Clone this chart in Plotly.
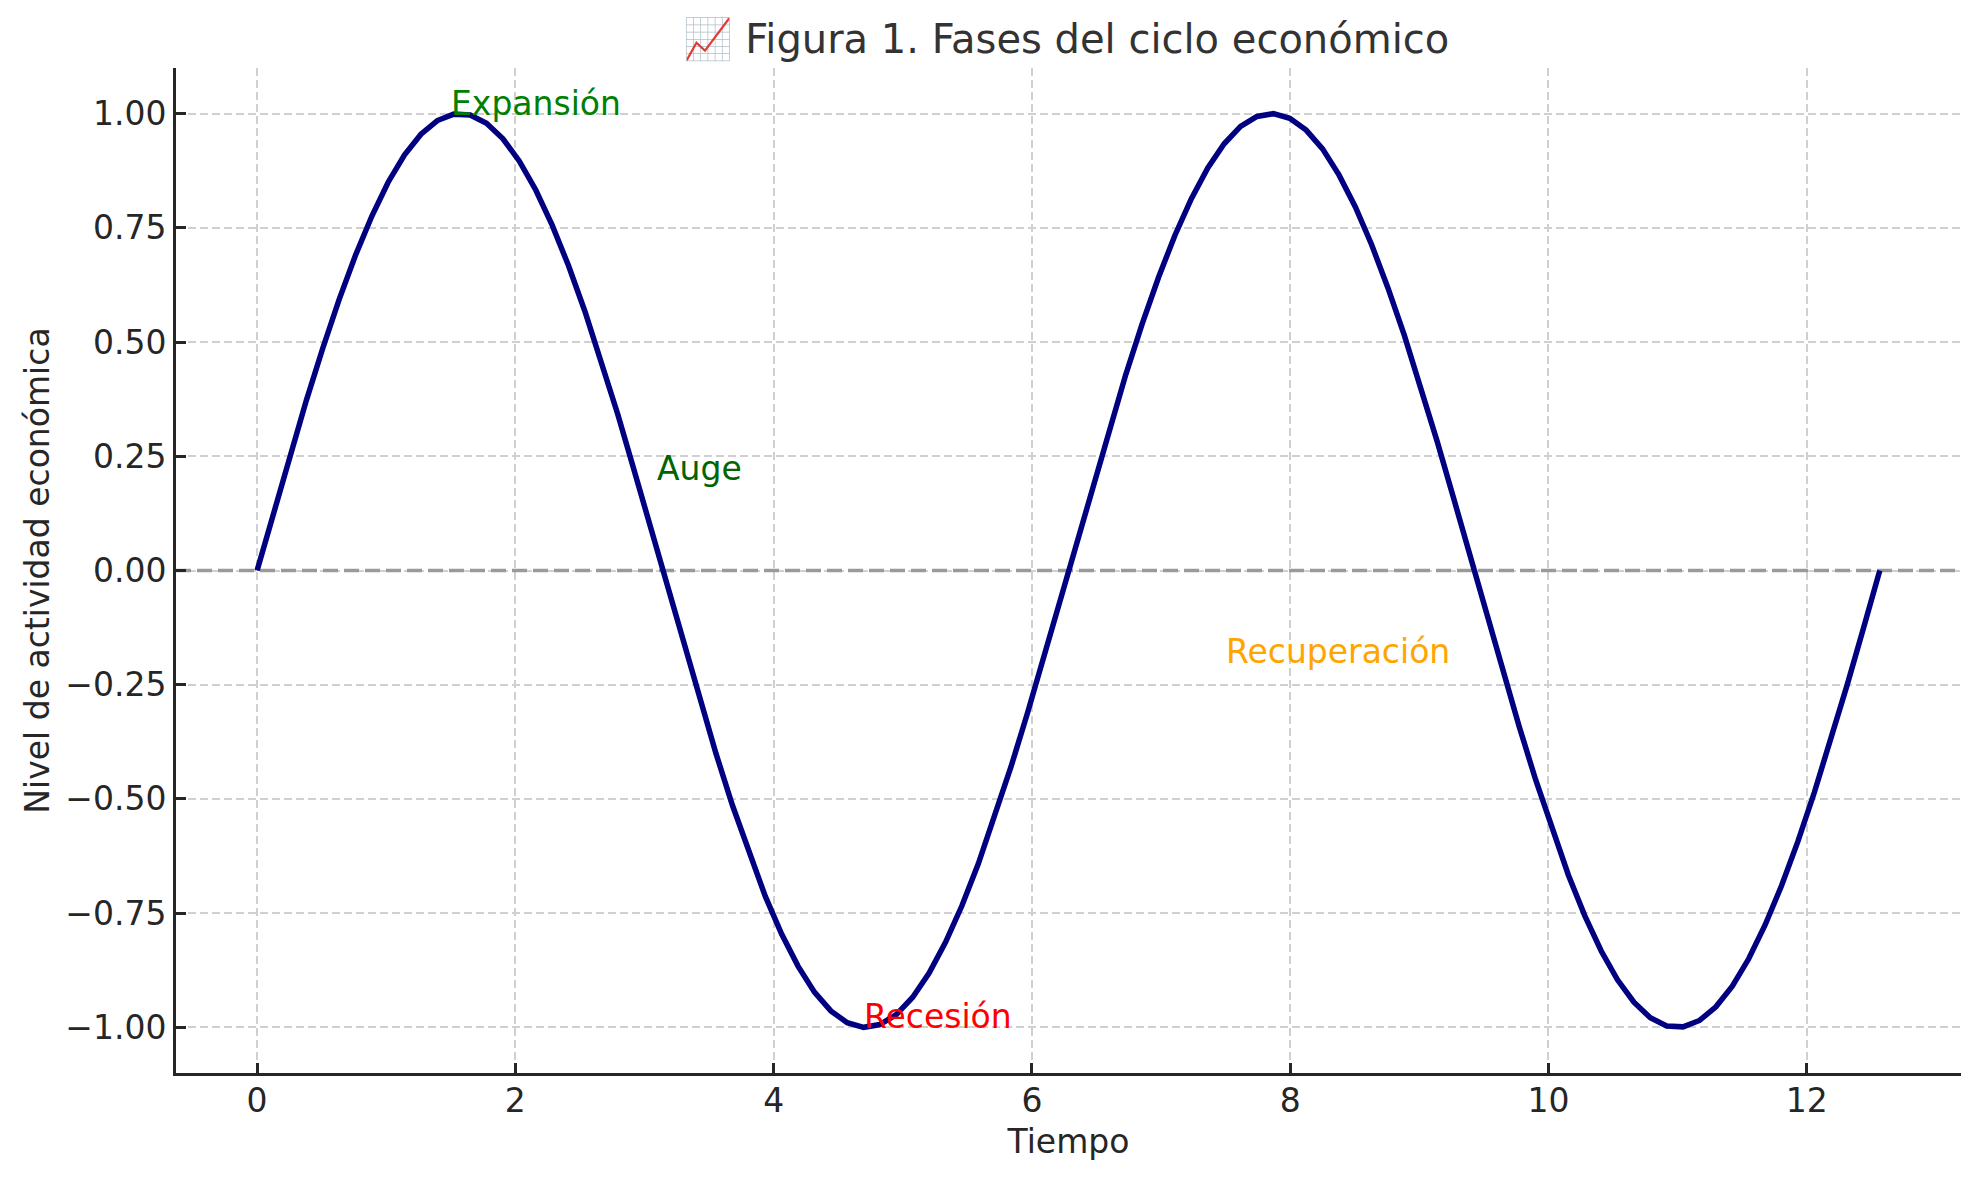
import plotly.graph_objects as go

# Curve points (Tiempo, Nivel de actividad económica)
tiempo = [
    0.000, 0.127, 0.254, 0.381, 0.508, 0.635, 0.762, 0.889, 1.015, 1.142,
    1.269, 1.396, 1.523, 1.650, 1.777, 1.904, 2.031, 2.158, 2.285, 2.412,
    2.539, 2.666, 2.793, 2.919, 3.046, 3.173, 3.300, 3.427, 3.554, 3.681,
    3.808, 3.935, 4.062, 4.189, 4.316, 4.443, 4.570, 4.697, 4.823, 4.950,
    5.077, 5.204, 5.331, 5.458, 5.585, 5.712, 5.839, 5.966, 6.093, 6.220,
    6.347, 6.474, 6.601, 6.727, 6.854, 6.981, 7.108, 7.235, 7.362, 7.489,
    7.616, 7.743, 7.870, 7.997, 8.124, 8.251, 8.378, 8.505, 8.631, 8.758,
    8.885, 9.012, 9.139, 9.266, 9.393, 9.520, 9.647, 9.774, 9.901, 10.028,
    10.155, 10.282, 10.409, 10.535, 10.662, 10.789, 10.916, 11.043, 11.170, 11.297,
    11.424, 11.551, 11.678, 11.805, 11.932, 12.059, 12.186, 12.313, 12.439, 12.566,
]
nivel = [
    0.000, 0.127, 0.251, 0.372, 0.486, 0.593, 0.690, 0.776, 0.850, 0.910,
    0.955, 0.985, 0.999, 0.997, 0.979, 0.945, 0.896, 0.833, 0.756, 0.667,
    0.567, 0.458, 0.342, 0.220, 0.095, -0.032, -0.158, -0.282, -0.401, -0.514,
    -0.618, -0.713, -0.796, -0.866, -0.923, -0.964, -0.990, -1.000, -0.994, -0.972,
    -0.934, -0.881, -0.814, -0.734, -0.642, -0.540, -0.429, -0.312, -0.189, -0.063,
    0.063, 0.189, 0.312, 0.429, 0.540, 0.642, 0.734, 0.814, 0.881, 0.934,
    0.972, 0.994, 1.000, 0.990, 0.964, 0.923, 0.866, 0.796, 0.713, 0.618,
    0.514, 0.401, 0.282, 0.158, 0.032, -0.095, -0.220, -0.342, -0.458, -0.567,
    -0.667, -0.756, -0.833, -0.896, -0.945, -0.979, -0.997, -0.999, -0.985, -0.955,
    -0.910, -0.850, -0.776, -0.690, -0.593, -0.486, -0.372, -0.251, -0.127, 0.000,
]

# Phase labels
fase_texto = ["Expansión", "Auge", "Recesión", "Recuperación"]
fase_x = [1.5, 3.1, 4.7, 7.5]
fase_y = [1.0, 0.2, -1.0, -0.2]
fase_color = ["#008000", "#006400", "#ff0000", "#ffa500"]

nivel_referencia = 0.0

x_range = [-0.628, 13.195]
y_range = [-1.1, 1.1]
x_ticks = [0, 2, 4, 6, 8, 10, 12]
y_ticks = [-1.0, -0.75, -0.5, -0.25, 0.0, 0.25, 0.5, 0.75, 1.0]
y_ticktext = ["−1.00", "−0.75", "−0.50", "−0.25", "0.00", "0.25", "0.50", "0.75", "1.00"]

FONT = "DejaVu Sans"
TXT = "#262626"

fig = go.Figure()
# horizontal reference line spanning the full axis width
fig.add_trace(go.Scatter(
    x=x_range, y=[nivel_referencia, nivel_referencia], mode="lines",
    line=dict(color="#9a9a9a", width=3.6, dash="15px,6px"),
    hoverinfo="skip", showlegend=False, cliponaxis=False,
))
fig.add_trace(go.Scatter(
    x=tiempo, y=nivel, mode="lines",
    line=dict(color="#000080", width=5.5),
    hoverinfo="skip", showlegend=False,
))

for t, xv, yv, c in zip(fase_texto, fase_x, fase_y, fase_color):
    fig.add_annotation(x=xv, y=yv, xref="x", yref="y", text=t, showarrow=False,
                       xanchor="left", yanchor="bottom", yshift=-11, xshift=-2,
                       font=dict(family=FONT, size=33, color=c))

axis_common = dict(
    showline=True, linecolor=TXT, linewidth=3,
    ticks="inside", ticklen=10, tickwidth=3, tickcolor=TXT,
    showgrid=True, gridcolor="#d0d0d0", gridwidth=1.6, griddash="8px,4px",
    zeroline=False, mirror=False,
    tickfont=dict(family=FONT, size=33, color=TXT),
)

fig.update_xaxes(range=x_range, tickvals=x_ticks, ticklabelstandoff=-4,
                 title=dict(text="Tiempo", font=dict(family=FONT, size=33, color=TXT), standoff=12),
                 **axis_common)
fig.update_yaxes(range=y_range, tickvals=y_ticks, ticktext=y_ticktext,
                 title=dict(text="Nivel de actividad económica", font=dict(family=FONT, size=33, color=TXT), standoff=6),
                 **axis_common)

fig.update_layout(
    width=1979, height=1180,
    margin=dict(l=176, r=18, t=68, b=107, autoexpand=False),
    paper_bgcolor="white", plot_bgcolor="white",
    title=dict(text="📈 Figura 1. Fases del ciclo económico", x=0.5386, xanchor="center",
               y=1 - 39 / 1180, yanchor="middle", yref="container",
               font=dict(family=FONT, size=40, color="#333333")),
    font=dict(family=FONT),
)

fig.write_html("out.html")
